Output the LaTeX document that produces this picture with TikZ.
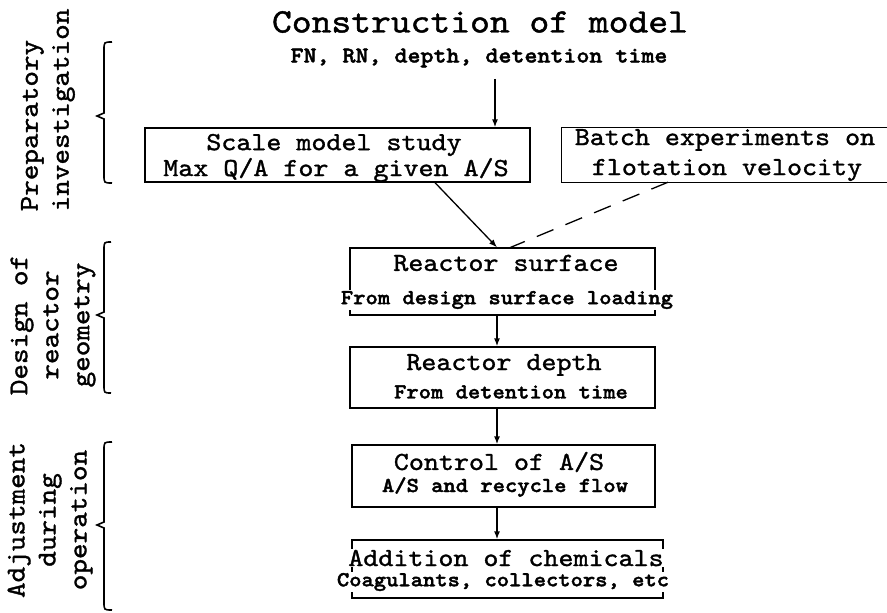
\documentclass[tikz,border=0pt]{standalone}
\usepackage{fontspec}
\setmainfont{lmmono10-regular}[Extension=.otf, FakeStretch=1.1, UprightFeatures={FakeBold=1.3}, BoldFont=lmmonolt10-bold, BoldFeatures={FakeBold=1.8}]
\usetikzlibrary{arrows.meta,positioning}

\begin{document}
\begin{tikzpicture}[x=1pt, y=-1pt,
		box/.style={draw, line width=1.3pt, inner sep=0pt},
		head/.style={font=\fontsize{26}{26}\selectfont, inner sep=0pt},
		sub/.style={font=\fontsize{21.3}{21.3}\selectfont\bfseries, inner sep=1pt, fill=white},
		side/.style={rotate=90, font=\fontsize{27}{31}\selectfont},
		brc/.style={line width=1.6pt},
		flow/.style={-{Latex[length=8pt,width=6pt]}, line width=1.3pt}]
	\useasboundingbox (0,0) rectangle (887,613);
	
	% title and inputs
	\node[font=\fontsize{34.3}{34.3}\selectfont] (title) at (480,22) {Construction of model};
	\node[font=\fontsize{22.5}{22.5}\selectfont\bfseries] (inputs) at (479,58) {FN, RN, depth, detention time};
	
	% boxes
	\node[box, minimum width=385pt, minimum height=54pt] (scale) at (337.5,155) {};
	\node[inner sep=0pt, minimum width=328pt, minimum height=54pt] (batch) at (726,155) {};
	\node[box, minimum width=305pt, minimum height=67pt] (surface) at (502.5,281.5) {};
	\node[box, minimum width=305pt, minimum height=61pt] (depth) at (502.5,377.5) {};
	\node[box, minimum width=303pt, minimum height=62pt] (control) at (503.5,476) {};
	\node[box, minimum width=311pt, minimum height=58pt] (addition) at (507.5,569) {};
	\draw[line width=1.3pt] (batch.north east) -- (batch.north west) -- (batch.south west) -- (batch.south east);
	
	% box texts
	\node[head] (scale-t) at (334,145) {Scale model study};
	\node[head] (scale-s) at (336,170) {Max Q/A for a given A/S};
	\node[head] (batch-t) at (725,140) {Batch experiments on};
	\node[head] (batch-s) at (727,170) {flotation velocity};
	\node[head] (surface-t) at (506,263) {Reactor surface};
	\node[sub] (surface-s) at (507,300) {From design surface loading};
	\node[head] (depth-t) at (504,365) {Reactor depth};
	\node[sub] (depth-s) at (511,392) {From detention time};
	\node[head] (control-t) at (499,462) {Control of A/S};
	\node[sub] (control-s) at (505,487) {A/S and recycle flow};
	\node[head, fill=white, inner sep=1pt] (addition-t) at (506,558) {Addition of chemicals};
	\node[sub] (addition-s) at (503,582) {Coagulants, collectors, etc};
	
	% side labels and braces
	\node[side, align=left] (prep) at (48,110) {Preparatory\\investigation};
	\node[side, align=center] (design) at (53,325) {Design of\\reactor\\geometry};
	\node[side, align=center] (adjust) at (50,520) {Adjustment\\during\\operation};
	\draw[brc] (112,183) .. controls (104,183) .. (104,175) -- (104,119) -- (97,116) -- (104,113) -- (104,50) .. controls (104,42) .. (112,42);
	\draw[brc] (111,393) .. controls (104,393) .. (104,385) -- (104,318) -- (97,315) -- (104,312) -- (104,250) .. controls (104,242) .. (111,242);
	\draw[brc] (112,610) .. controls (104,610) .. (104,602) -- (104,528) -- (97,525) -- (104,522) -- (104,450) .. controls (104,442) .. (112,442);
	
	% arrows
	\coordinate (spine) at (497,0);
	\draw[flow] ([yshift=-8pt]inputs.south -| 495,0) -- (scale.north -| 495,0);
	\draw[flow] ([xshift=97.5pt]scale.south) -- (surface.north -| spine);
	\draw[dashed, dash pattern=on 18pt off 13pt, line width=1.3pt] ([xshift=-58pt]batch.south) -- ([xshift=4pt, yshift=-4pt]surface.north -| spine);
	\draw[flow] (surface.south -| spine) -- (depth.north -| spine);
	\draw[flow] (depth.south -| spine) -- (control.north -| spine);
	\draw[flow] (control.south -| spine) -- (addition.north -| spine);
\end{tikzpicture}
\end{document}
